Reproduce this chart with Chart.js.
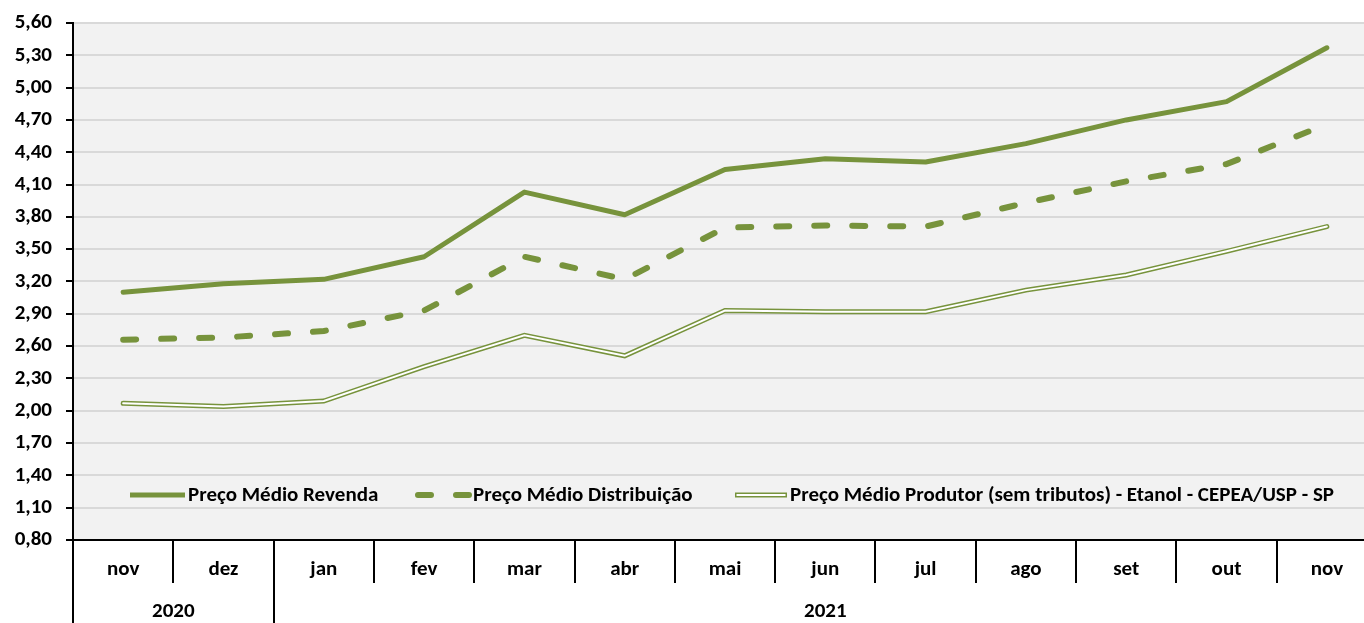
<!DOCTYPE html>
<html><head><meta charset="utf-8">
<style>html,body{margin:0;padding:0;background:#fff;overflow:hidden;width:1364px;height:623px}canvas{display:block}</style>
<script src="https://cdn.jsdelivr.net/npm/chart.js@4"></script>
</head><body>
<canvas id="c" width="1380" height="623" style="width:1380px;height:623px"></canvas>
<script>
// ---- data ----
const months = ['nov','dez','jan','fev','mar','abr','mai','jun','jul','ago','set','out','nov'];
const years = ['2020','2021'];
const yearSpans = [2, 11];
const revenda = [3.10,3.18,3.22,3.43,4.03,3.82,4.24,4.34,4.31,4.48,4.70,4.87,5.37];
const distribuicao = [2.66,2.68,2.74,2.93,3.43,3.22,3.70,3.72,3.71,3.93,4.13,4.29,4.66];
const produtor = [2.07,2.04,2.09,2.41,2.70,2.51,2.93,2.92,2.92,3.12,3.26,3.48,3.71];
const seriesNames = ['Preço Médio Revenda','Preço Médio Distribuição','Preço Médio Produtor (sem tributos) - Etanol - CEPEA/USP - SP'];
const yMin = 0.8, yMax = 5.6, yStep = 0.3;

const GREEN = '#77933c';
const FONT = 'Carlito, Lato, sans-serif';
const FS = 21;

const bgPlugin = {
  id: 'bg',
  beforeDraw(chart) {
    const {ctx, chartArea: a} = chart;
    ctx.save();
    ctx.fillStyle = '#f2f2f2';
    ctx.fillRect(a.left, a.top, a.right - a.left, a.bottom - a.top);
    ctx.restore();
  }
};

const extrasPlugin = {
  id: 'extras',
  afterDraw(chart) {
    const {ctx, chartArea: a} = chart;
    const xs = chart.scales.x;
    const n = months.length;
    const w = (xs.getPixelForValue(1) - xs.getPixelForValue(0));
    const boundary = i => xs.getPixelForValue(0) - w / 2 + i * w;
    ctx.save();
    ctx.strokeStyle = '#000';
    ctx.lineWidth = 2;
    const yearBounds = [0];
    let acc = 0;
    yearSpans.forEach(s => { acc += s; yearBounds.push(acc); });
    for (let i = 0; i <= n; i++) {
      const x = Math.round(boundary(i));
      const isYear = yearBounds.includes(i);
      ctx.beginPath();
      ctx.moveTo(x, a.bottom);
      ctx.lineTo(x, isYear ? chart.height : a.bottom + 43);
      ctx.stroke();
    }
    // year labels
    ctx.fillStyle = '#000';
    ctx.font = 'bold ' + FS + 'px ' + FONT;
    ctx.textAlign = 'center';
    ctx.textBaseline = 'middle';
    years.forEach((y, k) => {
      const x = (boundary(yearBounds[k]) + boundary(yearBounds[k + 1])) / 2;
      ctx.fillText(y, x, a.bottom + 72);
    });
    // legend
    const ly = 495;
    const items = [
      {sx: 130, tx: 188},
      {sx: 418, tx: 473},
      {sx: 735, tx: 790}
    ];
    ctx.textAlign = 'left';
    ctx.font = 'bold ' + FS + 'px ' + FONT;
    items.forEach((it, k) => {
      const ds = chart.data.datasets[k];
      ctx.save();
      ctx.strokeStyle = GREEN;
      ctx.lineCap = k === 1 ? 'round' : 'butt';
      ctx.lineWidth = ds.borderWidth;
      ctx.setLineDash(k === 1 ? [13, 25] : []);
      ctx.beginPath();
      ctx.moveTo(it.sx, ly);
      ctx.lineTo(it.tx - 3, ly);
      ctx.stroke();
      if (k === 2) {
        ctx.strokeStyle = '#fff';
        ctx.lineWidth = 2;
        ctx.beginPath();
        ctx.moveTo(it.sx + 1.5, ly);
        ctx.lineTo(it.tx - 4.5, ly);
        ctx.stroke();
      }
      ctx.restore();
      ctx.fillStyle = '#000';
      ctx.fillText(ds.label, it.tx, ly + 1);
    });
    ctx.restore();
  }
};

new Chart(document.getElementById('c'), {
  type: 'line',
  data: {
    labels: months,
    datasets: [
      {label: seriesNames[0], data: revenda, borderColor: GREEN, borderWidth: 5, pointRadius: 0, tension: 0, borderJoinStyle: 'round', borderCapStyle: 'round', order: 1},
      {label: seriesNames[1], data: distribuicao, borderColor: GREEN, borderWidth: 6, pointRadius: 0, tension: 0, borderDash: [13, 25], borderCapStyle: 'round', order: 2},
      {label: seriesNames[2], data: produtor, borderColor: GREEN, borderWidth: 5, pointRadius: 0, tension: 0, borderCapStyle: 'round', order: 3},
      {label: '_inner', data: produtor, borderColor: '#ffffff', borderWidth: 2, pointRadius: 0, tension: 0, borderCapStyle: 'round', order: 0}
    ]
  },
  options: {
    responsive: false,
    animation: false,
    devicePixelRatio: 1,
    layout: {padding: {top: 23, right: 3, left: 0, bottom: 0}},
    plugins: {legend: {display: false}, tooltip: {enabled: false}},
    scales: {
      x: {
        offset: true,
        grid: {display: false, drawTicks: false},
        border: {display: true, color: '#000', width: 2},
        ticks: {color: '#000', font: {family: FONT, size: FS, weight: 'bold'}, padding: 17, maxRotation: 0, autoSkip: false},
        afterFit(s) { s.height = 83; }
      },
      y: {
        min: yMin, max: yMax,
        grid: {color: '#d9d9d9', lineWidth: 2, tickColor: '#000', tickLength: 7, tickWidth: 2},
        border: {display: true, color: '#000', width: 2},
        ticks: {stepSize: yStep, color: '#000', padding: 14, font: {family: FONT, size: FS, weight: 'bold'},
          callback: v => Number(v).toFixed(2).replace('.', ',')},
        afterFit(s) { s.width = 73; s.paddingTop = 0; s.paddingBottom = 0; }
      }
    }
  },
  plugins: [bgPlugin, extrasPlugin]
});
</script>
</body></html>
